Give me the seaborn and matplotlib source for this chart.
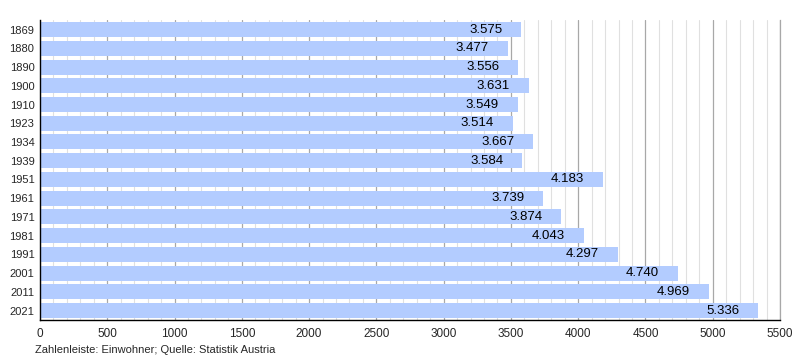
import matplotlib
matplotlib.use("Agg")
import matplotlib.pyplot as plt
import seaborn as sns
import pandas as pd
from matplotlib.ticker import MultipleLocator

sns.set_style("white")
plt.rcParams["font.family"] = ["Liberation Sans", "DejaVu Sans"]

years = ["1869", "1880", "1890", "1900", "1910", "1923", "1934", "1939",
         "1951", "1961", "1971", "1981", "1991", "2001", "2011", "2021"]
einwohner = [3575, 3477, 3556, 3631, 3549, 3514, 3667, 3584,
             4183, 3739, 3874, 4043, 4297, 4740, 4969, 5336]
labels = ["3.575", "3.477", "3.556", "3.631", "3.549", "3.514", "3.667", "3.584",
          "4.183", "3.739", "3.874", "4.043", "4.297", "4.740", "4.969", "5.336"]

df = pd.DataFrame({"Jahr": years, "Einwohner": einwohner})

fig = plt.figure(figsize=(8, 3.6), dpi=100)
ax = fig.add_axes([0.05, 0.111, 0.925, 0.833])

sns.barplot(data=df, x="Einwohner", y="Jahr", orient="h", color="#b3ccff",
            saturation=1, width=0.8, linewidth=0, edgecolor="none", ax=ax, zorder=2)

ax.set_xlim(0, 5500)
ax.set_ylim(len(years) - 0.5, -0.5)
ax.xaxis.set_major_locator(MultipleLocator(500))
ax.xaxis.set_minor_locator(MultipleLocator(100))
ax.grid(axis="x", which="minor", color="#e0e0e0", linewidth=0.8, zorder=0)
ax.grid(axis="x", which="major", color="#a8a8a8", linewidth=0.9, zorder=0)
ax.set_axisbelow(True)

# rechter Rand: Gitterlinie bei 5500 sichtbar machen
ax.spines["right"].set_color("#a8a8a8")
ax.spines["right"].set_linewidth(0.9)
ax.spines["top"].set_visible(False)
ax.spines["left"].set_color("black")
ax.spines["bottom"].set_color("black")
ax.spines["left"].set_linewidth(1)
ax.spines["bottom"].set_linewidth(1)

ax.tick_params(axis="x", which="major", length=3, width=0.8, labelsize=8.5, pad=2.5, direction="out")
ax.tick_params(axis="x", which="minor", length=1.8, width=0.6, direction="out")
ax.tick_params(axis="y", length=0, labelsize=8, pad=4)
ax.set_xlabel("")
ax.set_ylabel("")

for i, (v, lab) in enumerate(zip(einwohner, labels)):
    ax.text(v - 140, i, lab, ha="right", va="center", fontsize=9.5, color="black", zorder=3)

fig.text(0.044, 0.028, "Zahlenleiste: Einwohner; Quelle: Statistik Austria", fontsize=8, ha="left", va="center")

fig.savefig("out.png", dpi=100)
